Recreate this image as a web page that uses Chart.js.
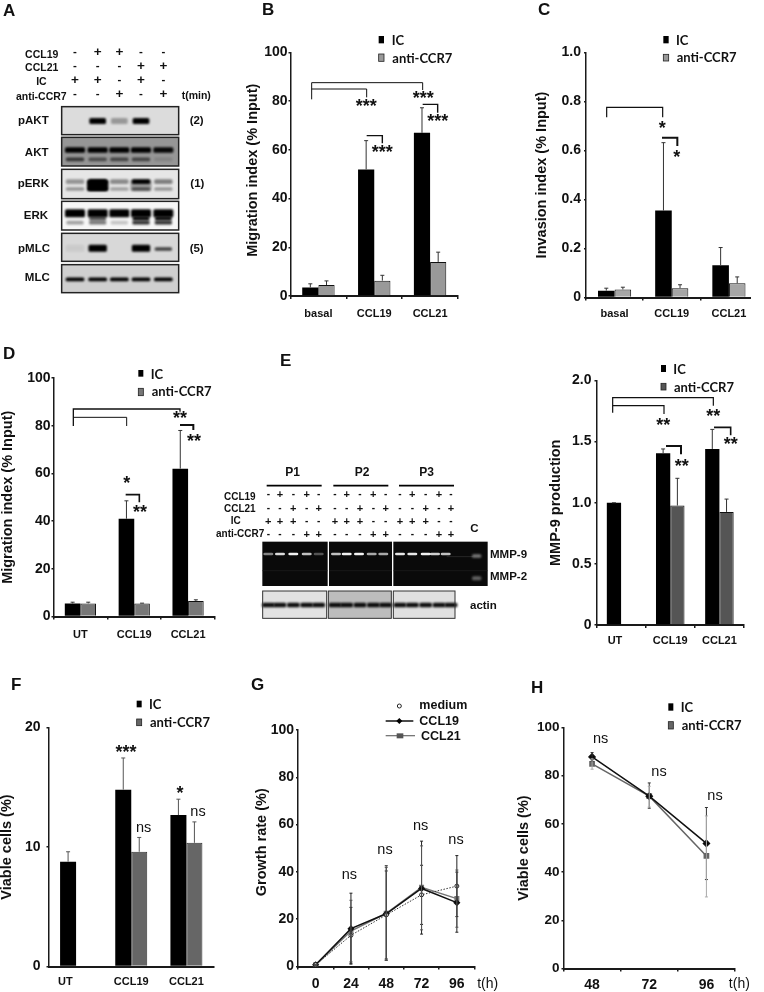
<!DOCTYPE html>
<html><head><meta charset="utf-8">
<script src="https://cdn.jsdelivr.net/npm/chart.js@4"></script>
<style>
html,body{margin:0;padding:0;background:#fff;width:764px;height:992px;overflow:hidden}
#stage{position:relative;width:764px;height:992px}
canvas{position:absolute;left:0;top:0}
svg#ov{position:absolute;left:0;top:0}
.t{position:absolute;white-space:nowrap;line-height:1;color:#111}
</style></head><body><div id="stage"></div>
<script>
/* ---------- data ---------- */
const catsBasal=['basal','CCL19','CCL21'];
const catsUT=['UT','CCL19','CCL21'];
const seriesIC='IC', seriesAnti='anti-CCR7';

const bIC=[3.5,52,67],       bAnti=[4.5,6.3,14];
const bICtop=[5,63.8,77.3],  bAntiTop=[6.2,8.5,18];

const cIC=[0.028,0.355,0.132],  cAnti=[0.033,0.038,0.058];
const cICtop=[0.038,0.632,0.204], cAntiTop=[0.042,0.052,0.084];

const dIC=[5.5,41,62],       dAnti=[5.5,5.5,6.5];
const dICtop=[6,48.5,78],    dAntiTop=[6,5.6,7];

const eIC=[1,1.405,1.44],    eAnti=[null,0.977,0.925];
const eICtop=[1,1.44,1.6],   eAntiTop=[null,1.2,1.03];

const fIC=[8.77,14.8,12.67], fAnti=[null,9.6,10.35];
const fICtop=[9.6,17.45,14], fAntiTop=[null,10.8,12.1];

const gHours=['0','24','48','72','96'];
const gMedium=[0.7,13.2,21.8,30.3,34];
const gCCL19=[0.7,16,22.3,33,27];
const gCCL21=[0.7,15,22.5,33.5,28.7];
const gMediumHi=[0.7,25,40.4,42.8,46.9], gMediumLo=[0.7,1.4,3.2,17.8,21.1];
const gCCL19Hi=[0.7,31,42,53,39.9],      gCCL19Lo=[0.7,1,2.6,13.7,14.5];
const gCCL21Hi=[0.7,28,42.7,51,40.8],    gCCL21Lo=[0.7,2,2.7,15.5,16.6];

const hHours=['48','72','96'];
const hIC=[87.8,71.5,51.9],  hAnti=[84.9,71.5,46.7];
const hICHi=[89.6,77,66.8],  hICLo=[86,66.5,36.9];
const hAntiHi=[87,75.6,63.3],hAntiLo=[82.7,67,29.7];

/* ---------- chart helpers ---------- */
const stage=document.getElementById('stage');
const ARIAL='"Liberation Sans",Arial,sans-serif', LATO='Lato,"Open Sans",sans-serif';

const errPlugin={id:'errs',afterDatasetsDraw(ch,_,o){
  const c=ch.ctx,y=ch.scales.y;
  (o.sets||[]).forEach((s,i)=>{
    const pts=ch.getDatasetMeta(i).data;
    pts.forEach((p,j)=>{
      const hi=s.hi[j]; if(hi==null)return;
      const v=ch.data.datasets[i].data[j];
      const lo=s.lo?s.lo[j]:v;
      c.save();c.strokeStyle=s.color;c.lineWidth=s.lw||1;
      const yh=y.getPixelForValue(hi),yl=y.getPixelForValue(lo),cap=s.cap||2;
      c.beginPath();c.moveTo(p.x,yl);c.lineTo(p.x,yh);
      c.moveTo(p.x-cap,yh);c.lineTo(p.x+cap,yh);
      if(s.lo){c.moveTo(p.x-cap,yl);c.lineTo(p.x+cap,yl);}
      c.stroke();c.restore();
    });
  });
}};

function panel(p){
  const cv=document.createElement('canvas');cv.width=764;cv.height=992;
  cv.style.width='764px';cv.style.height='992px';stage.appendChild(cv);
  const tsize=p.titleSize||14.5;
  const left=Math.max(0,p.titleX-tsize/2);
  const axisCol='#1a1a1a';
  new Chart(cv,{type:p.type,
    data:{labels:p.labels,datasets:p.datasets},
    plugins:[errPlugin],
    options:{responsive:false,animation:false,devicePixelRatio:1,
      layout:{padding:{left:left,right:764-p.x1,top:p.y0,bottom:0}},
      datasets:{bar:{barPercentage:1,categoryPercentage:0.58}},
      plugins:{legend:{display:false},tooltip:{enabled:false},errs:{sets:p.errs}},
      scales:{
        x:{type:'category',offset:true,
          afterFit:s=>{s.height=992-p.y1;},
          border:{display:true,color:axisCol,width:p.xw||2},
          grid:{display:true,offset:true,drawOnChartArea:false,drawTicks:p.xTicks!==false,tickLength:p.xTicks===false?0:3,color:axisCol,lineWidth:1.5},
          ticks:{autoSkip:false,maxRotation:0,minRotation:0,padding:p.xPad,color:'#111',
            font:{family:ARIAL,weight:'bold',size:p.xSize||11,lineHeight:1},
            callback:(v,i)=>p.labels[i]+(i===0&&p.firstPad?' '.repeat(p.firstPad):'')}},
        y:{min:0,max:p.max,
          afterFit:s=>{s.width=p.x0-left;},
          border:{display:true,color:axisCol,width:1.5},
          grid:{display:true,drawOnChartArea:false,drawTicks:true,tickLength:2,color:axisCol,lineWidth:1.5},
          title:{display:true,text:p.title,color:'#111',padding:0,font:{family:ARIAL,weight:'bold',size:tsize,lineHeight:1}},
          ticks:{stepSize:p.step,padding:p.yPad||1,color:'#111',font:{family:ARIAL,weight:'bold',size:p.ySize||14,lineHeight:1}}}
      }}});
}
function barSets(ic,anti,col,edge){
  return [{label:seriesIC,data:ic,backgroundColor:'#000',borderColor:'#000',borderWidth:0},
          {label:seriesAnti,data:anti,backgroundColor:col,borderColor:edge||'#111',borderWidth:1}];
}
function barErr(a,b,c1,c2){return [{hi:a,color:c1||'#333'},{hi:b,color:c2||'#333'}];}

panel({type:'bar',labels:catsBasal,datasets:barSets(bIC,bAnti,'#999'),errs:barErr(bICtop,bAntiTop),
  x0:290.5,x1:458,y0:52.5,y1:296,max:100,step:20,title:'  Migration index (% Input)',titleX:253,xPad:9,ySize:14});
panel({type:'bar',labels:catsBasal,datasets:barSets(cIC,cAnti,'#a6a6a6'),errs:barErr(cICtop,cAntiTop),
  x0:586,x1:757.5,y0:52.5,y1:297.5,max:1,step:0.2,title:'Invasion index (% Input)',titleX:541.5,xPad:8,yPad:3,ySize:14});
panel({type:'bar',labels:catsUT,datasets:barSets(dIC,dAnti,'#777'),errs:barErr(dICtop,dAntiTop),
  x0:53.5,x1:215,y0:378,y1:616.5,max:100,step:20,title:'Migration index (% Input)',titleX:7.5,xPad:10,ySize:14});
panel({type:'bar',labels:catsUT,datasets:barSets(eIC,eAnti,'#555'),errs:barErr(eICtop,eAntiTop),firstPad:4,
  x0:596.5,x1:744,y0:380.5,y1:625,max:2,step:0.5,title:'MMP-9 production',titleX:556,xPad:7,yPad:3,ySize:14});
panel({type:'bar',labels:catsUT,datasets:barSets(fIC,fAnti,'#666','#333'),errs:barErr(fICtop,fAntiTop,'#555','#555'),firstPad:7,xTicks:false,
  x0:48.5,x1:214,y0:727.5,y1:966.5,max:20,step:10,title:'Viable cells (%)',titleX:7,xPad:10,yPad:6,ySize:14});
panel({type:'line',labels:gHours,
  datasets:[
   {label:'medium',data:gMedium,borderColor:'#333',borderWidth:1,borderDash:[1.5,1.5],pointStyle:'circle',pointRadius:2,backgroundColor:'#fff',pointBorderColor:'#222',tension:0},
   {label:'CCL19',data:gCCL19,borderColor:'#111',borderWidth:1.5,pointStyle:'rectRot',pointRadius:2.5,backgroundColor:'#000',tension:0},
   {label:'CCL21',data:gCCL21,borderColor:'#777',borderWidth:1.5,pointStyle:'rect',pointRadius:2.5,backgroundColor:'#555',tension:0}],
  errs:[{hi:gMediumHi,lo:gMediumLo,color:'#222',cap:1.5},{hi:gCCL19Hi,lo:gCCL19Lo,color:'#222',cap:1.5},{hi:gCCL21Hi,lo:gCCL21Lo,color:'#555',cap:1.5}],
  x0:298,x1:474.5,y0:730,y1:966.5,max:100,step:20,title:'   Growth rate (%)',titleX:261.5,xSize:14,xPad:8,yPad:2,ySize:14});
panel({type:'line',labels:hHours,
  datasets:[
   {label:seriesIC,data:hIC,borderColor:'#111',borderWidth:1.5,pointStyle:'rectRot',pointRadius:3,backgroundColor:'#000',tension:0},
   {label:seriesAnti,data:hAnti,borderColor:'#666',borderWidth:1.5,pointStyle:'rect',pointRadius:3,backgroundColor:'#666',tension:0}],
  errs:[{hi:hICHi,lo:hICLo,color:'#333',cap:1.5},{hi:hAntiHi,lo:hAntiLo,color:'#aaa',cap:1.5}],
  x0:563.5,x1:735,y0:727.5,y1:968.5,max:100,step:20,title:'Viable cells (%)',titleX:524,xSize:14,xPad:7,yPad:2,ySize:13.5});

/* ---------- text annotations ---------- */
function T(s,x,y,o={}){
  const d=document.createElement('div');d.className='t';d.textContent=s;
  const a=o.anchor||'l';const tx=a==='c'?'-50%':a==='r'?'-100%':'0';
  d.style.cssText=`left:${x}px;top:${y}px;transform:translate(${tx},-50%);font:${o.w||'bold'} ${o.s||11}px ${o.f||ARIAL};line-height:1`;
  stage.appendChild(d);return d;
}
[['A',3,10],['B',262,9],['C',538,9],['D',3,353],['E',280,360],['F',11,684],['G',251,684],['H',531,687]]
  .forEach(l=>T(l[0],l[1],l[2],{s:17}));
function Z(ox,oy){return (x,y)=>[ox+x/3,oy+y/3];}
function legend(ox,oy,items){
  items.forEach(it=>{const[x,y]=Z(ox,oy)(it[1],it[2]);T(it[0],x,y,{s:13,f:LATO});});
}
legend(230,0,[['IC',485,120],['anti-CCR7',487,173]]);
legend(500,0,[['IC',528,120],['anti-CCR7',530,172]]);
legend(0,340,[['IC',452,102],['anti-CCR7',455,153]]);
legend(530,340,[['IC',430,87],['anti-CCR7',432,140]]);
legend(0,670,[['IC',447,103],['anti-CCR7',450,157]]);
legend(510,670,[['IC',512,112],['anti-CCR7',515,165]]);
[['medium',538,105],['CCL19',538,153],['CCL21',543,197]].forEach(i=>{const[x,y]=Z(240,670)(i[1],i[2]);T(i[0],x,y,{s:12.5});});

function star(s,z,x,y){const[px,py]=z(x,y);T(s,px,py+2.5,{s:18,anchor:'c'});}
const zB=Z(230,0),zC=Z(500,0),zD=Z(0,340),zE=Z(530,340),zF=Z(0,670),zG=Z(240,670),zH=Z(510,670),zA=Z(0,0),zG2=Z(220,340);
[['***',409,310],['***',580,287],['***',623,355],['***',457,447]].forEach(a=>star(a[0],zB,a[1],a[2]));
[['*',487,375],['*',530,462]].forEach(a=>star(a[0],zC,a[1],a[2]));
[['**',540,225],['**',582,295],['*',380,422],['**',420,507]].forEach(a=>star(a[0],zD,a[1],a[2]));
[['**',400,247],['**',550,221],['**',455,370],['**',602,305]].forEach(a=>star(a[0],zE,a[1],a[2]));
[['***',378,237],['*',540,360]].forEach(a=>star(a[0],zF,a[1],a[2]));
function ns(z,x,y){const[px,py]=z(x,y);T('ns',px,py,{s:14.5,w:'normal',anchor:'c'});}
[[431,470],[594,422]].forEach(a=>ns(zF,a[0],a[1]));
[[328,612],[435,537],[542,465],[648,507]].forEach(a=>ns(zG,a[0],a[1]));
[[272,204],[447,302],[615,375]].forEach(a=>ns(zH,a[0],a[1]));
{const[x,y]=zG(743,940);T('t(h)',x,y,{s:14,w:'normal',anchor:'c'});}
{const[x,y]=zH(688,940);T('t(h)',x,y,{s:14,w:'normal',anchor:'c'});}

/* ---------- vector overlay: brackets, legend swatches, blots ---------- */
let svg='<defs><filter id="b1" x="-30%" y="-80%" width="160%" height="260%"><feGaussianBlur stdDeviation="1.2"/></filter><filter id="b2" x="-30%" y="-80%" width="160%" height="260%"><feGaussianBlur stdDeviation="0.6"/></filter></defs>';
function poly(z,pts,w,col){svg+=`<polyline fill="none" stroke="${col||'#111'}" stroke-width="${w||1}" points="${pts.map(p=>z(p[0],p[1]).join(',')).join(' ')}"/>`;}
function rect(z,x0,y0,x1,y1,fill,stroke,sw){const[a,b]=z(x0,y0),[c,d]=z(x1,y1);svg+=`<rect x="${a}" y="${b}" width="${c-a}" height="${d-b}" fill="${fill}"${stroke?` stroke="${stroke}" stroke-width="${sw||1}"`:''}/>`;}
// brackets
poly(zB,[[245,298],[245,248],[578,248],[578,270]]);poly(zB,[[245,267],[410,267],[410,292]]);
poly(zB,[[578,313],[623,313],[623,338]],1.4);poly(zB,[[410,407],[457,407],[457,430]],1.4);
poly(zC,[[320,352],[320,322],[488,322],[488,352]],1.2);poly(zC,[[486,413],[532,413],[532,438]],2);
poly(zD,[[220,258],[220,207],[540,207],[540,215]],1.3);poly(zD,[[220,232],[380,232],[380,258]]);
poly(zD,[[540,255],[580,255],[580,270]],2);poly(zD,[[377,464],[418,464],[418,487]],1.6);
poly(zE,[[248,218],[248,173],[550,173],[550,197]],1.2);poly(zE,[[248,197],[402,197],[402,222]],1.2);
poly(zE,[[408,318],[453,318],[453,343]],2);poly(zE,[[552,262],[602,262],[602,286]],1.6);
// panel C's axis line stops short of the last category edge
svg+='<rect x="751" y="293" width="9" height="8" fill="#fff"/>';
// legend swatches
[[zB,446,462,108,130,162,184,'#999'],[zC,490,506,108,130,163,183,'#999'],[zD,415,430,90,110,145,167,'#777'],
 [zE,393,408,75,96,130,150,'#555'],[zF,410,425,92,112,147,167,'#666'],[zH,475,490,100,122,155,177,'#666']].forEach(s=>{
  rect(s[0],s[1],s[3],s[2],s[4],'#000');rect(s[0],s[1],s[5],s[2],s[6],s[7],'#222',0.8);
});
// G legend
{const[x,y]=zG(478,108);svg+=`<circle cx="${x}" cy="${y}" r="2" fill="#fff" stroke="#222"/>`;}
poly(zG,[[437,153],[520,153]],1.5,'#111');{const[x,y]=zG(478,153);svg+=`<path d="M${x-3} ${y}L${x} ${y-3}L${x+3} ${y}L${x} ${y+3}Z" fill="#000"/>`;}
poly(zG,[[437,197],[525,197]],1.3,'#777');rect(zG,470,190,490,205,'#555');

/* ---------- panel A blots ---------- */
const aLanes=[225,293,358,423,490];
const aRows=[
 {name:'pAKT',y0:320,y1:404,bg:'#dcdcdc',ly:363,lx:100,t:'(2)',tx:590,bands:[{y:363,h:18,w:50,v:[0,1,.3,1,0]}]},
 {name:'AKT',y0:412,y1:498,bg:'#969696',ly:458,lx:110,bands:[{y:450,h:17,w:60,v:[1,1,1,1,.95]},{y:478,h:11,w:55,v:[.65,.5,.55,.55,.12]}]},
 {name:'pERK',y0:508,y1:596,bg:'#e6e6e6',ly:552,lx:100,t:'(1)',tx:592,bands:[{y:545,h:14,w:55,v:[.35,1,.4,1,.45]},{y:567,h:11,w:55,v:[.35,1,.3,.5,.35]},{y:556,h:34,w:64,v:[0,1,0,.3,0]}]},
 {name:'ERK',y0:604,y1:690,bg:'#f6f6f6',ly:647,lx:108,bands:[{y:640,h:24,w:60,v:[1,1,1,1,1]},{y:668,h:11,w:52,v:[.35,.5,.2,.8,.8]},{y:655,h:14,w:50,v:[0,.6,0,.9,.9]}]},
 {name:'pMLC',y0:700,y1:784,bg:'#d8d8d8',ly:747,lx:102,t:'(5)',tx:590,bands:[{y:745,h:21,w:55,v:[.06,1,0,1,0]},{y:747,h:11,w:52,v:[0,0,0,0,.7]}]},
 {name:'MLC',y0:794,y1:878,bg:'#cfcfcf',ly:835,lx:112,bands:[{y:838,h:11,w:56,v:[1,1,1,1,1]}]}
];
function band(z,cx,cy,w,h,col,op,f){if(op<=0)return;const[x,y]=z(cx,cy);svg+=`<rect x="${x-w/6}" y="${y-h/6}" width="${w/3}" height="${h/3}" rx="1.5" fill="${col}" opacity="${op}" filter="url(#${f||'b1'})"/>`;}
aRows.forEach(r=>{
  rect(zA,185,r.y0,536,r.y1,r.bg);
  r.bands.forEach(b=>b.v.forEach((v,i)=>band(zA,aLanes[i],b.y,b.w,b.h,'#000',v)));
  rect(zA,185,r.y0,536,r.y1,'none','#222',1.5);
  const[lx,ly]=zA(r.lx,r.ly);T(r.name,lx,ly,{s:11.5,anchor:'c'});
  if(r.t){const[tx,ty]=zA(r.tx,r.ly);T(r.t,tx,ty,{s:11.5,anchor:'c'});}
});
const aSigns={CCL19:['-','+','+','-','-'],CCL21:['-','-','-','+','+'],IC:['+','+','-','+','-'],'anti-CCR7':['-','-','+','-','+']};
const aLabelPos=[['CCL19',175,157],['CCL21',175,198],['IC',140,240],['anti-CCR7',200,283]];
aLabelPos.forEach(l=>{const[x,y]=zA(l[1],l[2]+4);T(l[0],x,y,{s:10.5,anchor:'r'});
  aSigns[l[0]].forEach((s,i)=>{const[px,py]=zA(aLanes[i],l[2]);T(s,px,py,{s:s==='+'?13.5:11.5,anchor:'c'});});});
{const[x,y]=zA(545,285);T('t(min)',x,y,{s:10.5});}

/* ---------- panel E gels ---------- */
const eCols=[[145,180,220,260,296],[345,380,420,460,497],[540,577,617,657,693]];
const eNames=['P1','P2','P3'],eNameX=[218,426,620],eLine=[[140,305],[340,505],[537,702]];
const eSigns={CCL19:['-','+','-','+','-'],CCL21:['-','-','+','-','+'],IC:['+','+','+','-','-'],'anti-CCR7':['-','-','-','+','+']};
const eRowY={CCL19:463,CCL21:503,IC:543,'anti-CCR7':583};
const eLabelPos=[['CCL19',107,472],['CCL21',107,508],['IC',62,543],['anti-CCR7',133,582]];
const mmp9=[[.5,.85,.95,.75,.3],[.75,.95,.95,.65,.65],[.9,.9,.95,.8,.75]];
const mmpX=[[145,180,220,260,296],[348,380,417,455,490],[540,577,617,645,677]];
const gelX=[[127,323],[327,516],[520,803]];
const actX=[[128,320],[325,514],[520,705]],actBg=['#e2e2e2','#bdbdbd','#e0e0e0'];
gelX.forEach((g,i)=>{rect(zG2,g[0],605,g[1],738,'#0a0a0a');
  poly(zG2,[[g[0],692],[g[1],692]],0.6,'#222');
  mmpX[i].forEach((x,j)=>band(zG2,x,642,30,8,'#fff',mmp9[i][j],'b2'));});
poly(zG2,[[680,650],[760,650]],0.7,'#333');
band(zG2,770,648,28,10,'#aaa',.7);band(zG2,770,715,28,12,'#888',.7);
actX.forEach((a,i)=>{rect(zG2,a[0],753,a[1],835,actBg[i]);
  eCols[i].forEach(x=>band(zG2,x,795,38,14,'#000',.95));
  rect(zG2,a[0],753,a[1],835,'none','#333',1);});
eNames.forEach((n,i)=>{const[x,y]=zG2(eNameX[i],397);T(n,x,y,{s:12,anchor:'c'});
  poly(zG2,[[eLine[i][0],437],[eLine[i][1],437]],1.6,'#000');
  Object.keys(eSigns).forEach(k=>eSigns[k].forEach((s,j)=>{const[px,py]=zG2(eCols[i][j],eRowY[k]);T(s,px,py,{s:s==='+'?11:10,anchor:'c'});}));});
eLabelPos.forEach(l=>{const[x,y]=zG2(l[1],l[2]);T(l[0],x,y,{s:10,anchor:'r'});});
[['C',763,568],['MMP-9',810,645],['MMP-2',810,710],['actin',750,797]].forEach(l=>{const[x,y]=zG2(l[1],l[2]);T(l[0],x,y,{s:11.5,anchor:l[0]==='C'?'c':'l'});});

const ov=document.createElementNS('http://www.w3.org/2000/svg','svg');
ov.setAttribute('id','ov');ov.setAttribute('width',764);ov.setAttribute('height',992);ov.innerHTML=svg;
stage.appendChild(ov);
document.querySelectorAll('.t').forEach(t=>stage.appendChild(t));
</script></body></html>
